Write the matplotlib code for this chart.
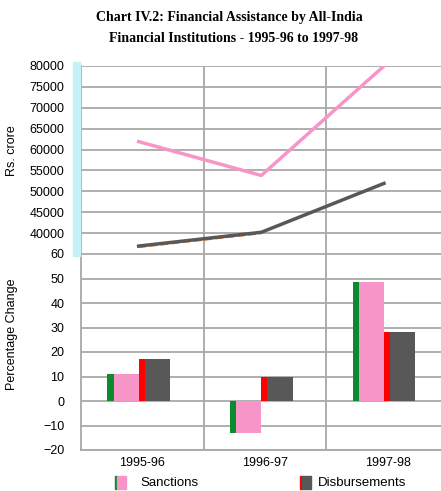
import matplotlib.pyplot as plt
import matplotlib.patches as mpatches
import numpy as np

# ===================== DATOS =====================
anios = ["1995-96", "1996-97", "1997-98"]

# Rs. crore (panel superior)
sanciones_abs = [61900, 53800, 80000]
desembolsos_abs = [36900, 40200, 51900]

# Variación porcentual (panel inferior)
sanciones_pct = [11, -13, 48.6]
desembolsos_pct = [17.3, 10, 28.2]

ticks_sup = [35000, 40000, 45000, 50000, 55000, 60000, 65000, 70000, 75000, 80000]
etiquetas_sup = ["", "40000", "45000", "50000", "55000", "60000", "65000", "70000", "75000", "80000"]
ticks_inf = [-20, -10, 0, 10, 20, 30, 40, 50, 60]
# =================================================

ROSA = "#f895c8"
VERDE = "#0b8a2e"
ROJO = "#ff0000"
GRIS = "#585858"
GRID = "#a8a8a8"

plt.rcParams["font.family"] = ["Liberation Sans", "DejaVu Sans"]

fig = plt.figure(figsize=(4.41, 4.91), dpi=100)
W, H = 441, 491


def ejes(x0, y0, x1, y1):
    return fig.add_axes([x0 / W, 1 - y1 / H, (x1 - x0) / W, (y1 - y0) / H])


ax_sup = ejes(81, 66, 449, 254)
ax_inf = ejes(81, 254, 449, 450)

x = np.arange(len(anios))

# franja celeste lateral
fig.patches.append(mpatches.Rectangle((73 / W, 1 - 256 / H), 7 / W, 194 / H,
                                      transform=fig.transFigure, color="#c4f2f8", zorder=0))

for ax in (ax_sup, ax_inf):
    ax.set_xlim(-0.5, 2.5)
    for v in [0.5, 1.5]:
        ax.axvline(v, color=GRID, lw=1.3, zorder=1)
    for s in ax.spines.values():
        s.set_visible(False)
    ax.spines["left"].set_visible(True)
    ax.spines["left"].set_color(GRID)
    ax.spines["left"].set_linewidth(1.3)
    ax.tick_params(axis="y", length=0, labelsize=9, pad=12)
    ax.tick_params(axis="x", length=0)

# ---- panel superior
ax_sup.set_ylim(35000, 80000)
ax_sup.set_yticks(ticks_sup)
ax_sup.set_yticklabels(etiquetas_sup)
ax_sup.grid(axis="y", color=GRID, lw=1.3, zorder=1)
ax_sup.set_xticks([])
ax_sup.plot(x[:2] - 0.03, np.array(desembolsos_abs[:2]) - 250, color="#ff7a20", lw=1.5, ls="--", zorder=2)
ax_sup.plot(x - 0.03, desembolsos_abs, color=GRIS, lw=2.5, zorder=3)
ax_sup.plot(x - 0.03, sanciones_abs, color=ROSA, lw=2.5, zorder=3)
ax_sup.set_ylabel("Rs. crore", fontsize=9, labelpad=6)

# ---- panel inferior
ax_inf.set_ylim(-20, 60)
ax_inf.set_yticks(ticks_inf)
ax_inf.grid(axis="y", color=GRID, lw=1.3, zorder=1)
w_borde = 0.05
w_barra = 0.205
inicio = x - 0.285
ax_inf.bar(inicio, sanciones_pct, w_borde, align="edge", color=VERDE, zorder=3)
ax_inf.bar(inicio + w_borde, sanciones_pct, w_barra, align="edge", color=ROSA, zorder=3)
ax_inf.bar(inicio + w_borde + w_barra, desembolsos_pct, w_borde, align="edge", color=ROJO, zorder=3)
ax_inf.bar(inicio + 2 * w_borde + w_barra, desembolsos_pct, w_barra, align="edge", color=GRIS, zorder=3)
ax_inf.set_xticks(x)
ax_inf.set_xticklabels(anios, fontsize=9)
ax_inf.tick_params(axis="x", pad=5)
ax_inf.set_ylabel("Percentage Change", fontsize=9, labelpad=14)
ax_inf.spines["bottom"].set_visible(True)
ax_inf.spines["bottom"].set_color(GRID)
ax_inf.spines["bottom"].set_linewidth(1.3)

# alinear etiquetas de ejes y
ax_sup.yaxis.set_label_coords(-0.17, 0.55)
ax_inf.yaxis.set_label_coords(-0.17, 0.59)

# ---- título
fig.text(0.52, 1 - 18 / H, "Chart IV.2: Financial Assistance by All-India",
         ha="center", va="center", fontsize=10, family="Liberation Serif", fontweight="bold")
fig.text(0.53, 1 - 38 / H, "Financial Institutions - 1995-96 to 1997-98",
         ha="center", va="center", fontsize=10, family="Liberation Serif", fontweight="bold")

# ---- leyenda manual
def caja(x0, color_borde, color):
    fig.patches.append(mpatches.Rectangle((x0 / W, 1 - 489 / H), 2 / W, 13 / H,
                                          transform=fig.transFigure, color=color_borde))
    fig.patches.append(mpatches.Rectangle(((x0 + 2) / W, 1 - 489 / H), 9 / W, 13 / H,
                                          transform=fig.transFigure, color=color))

caja(115, VERDE, ROSA)
fig.text(140 / W, 1 - 483 / H, "Sanctions", fontsize=9.5, va="center")
caja(300, ROJO, GRIS)
fig.text(318 / W, 1 - 483 / H, "Disbursements", fontsize=9.5, va="center")

plt.savefig("out.png", dpi=100)
